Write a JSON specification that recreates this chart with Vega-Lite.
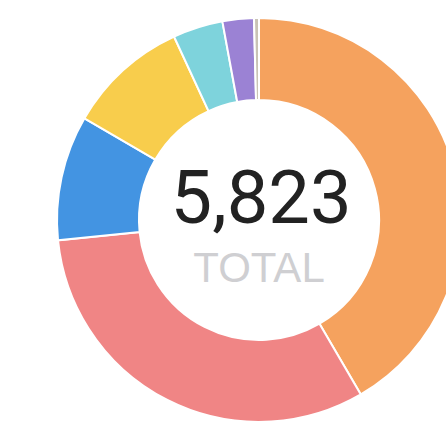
{
  "$schema": "https://vega.github.io/schema/vega-lite/v6.json",
  "autosize": "none",
  "width": 374,
  "height": 422,
  "padding": {"left": 72, "top": 9, "right": 0, "bottom": 0},
  "background": "white",
  "config": {"view": {"stroke": null}},
  "layer": [
    {
      "data": {
        "values": [
          {"category": "A", "order": 1, "value": 2422},
          {"category": "B", "order": 2, "value": 1852},
          {"category": "C", "order": 3, "value": 582},
          {"category": "D", "order": 4, "value": 565},
          {"category": "E", "order": 5, "value": 233},
          {"category": "F", "order": 6, "value": 146},
          {"category": "G", "order": 7, "value": 23}
        ]
      },
      "mark": {"type": "arc", "innerRadius": 120, "outerRadius": 202, "stroke": "white", "strokeWidth": 2},
      "encoding": {
        "theta": {"field": "value", "type": "quantitative", "stack": true},
        "order": {"field": "order", "type": "quantitative"},
        "color": {
          "field": "category",
          "type": "nominal",
          "legend": null,
          "scale": {
            "domain": ["A", "B", "C", "D", "E", "F", "G"],
            "range": ["#F5A25E", "#F08585", "#4394E2", "#F8CD4C", "#7ED3DC", "#9B82D4", "#C9C3B5"]
          }
        }
      }
    },
    {
      "data": {"values": [{"label": "5,823"}]},
      "mark": {"type": "text", "font": "Roboto", "fontSize": 74, "color": "#222222", "baseline": "alphabetic", "align": "center", "dy": 3, "dx": 2},
      "encoding": {"text": {"field": "label"}}
    },
    {
      "data": {"values": [{"label": "TOTAL"}]},
      "mark": {"type": "text", "font": "Liberation Sans", "fontSize": 42, "fontWeight": 500, "color": "#CFCFD2", "baseline": "alphabetic", "align": "center", "dy": 62},
      "encoding": {"text": {"field": "label"}}
    }
  ]
}
